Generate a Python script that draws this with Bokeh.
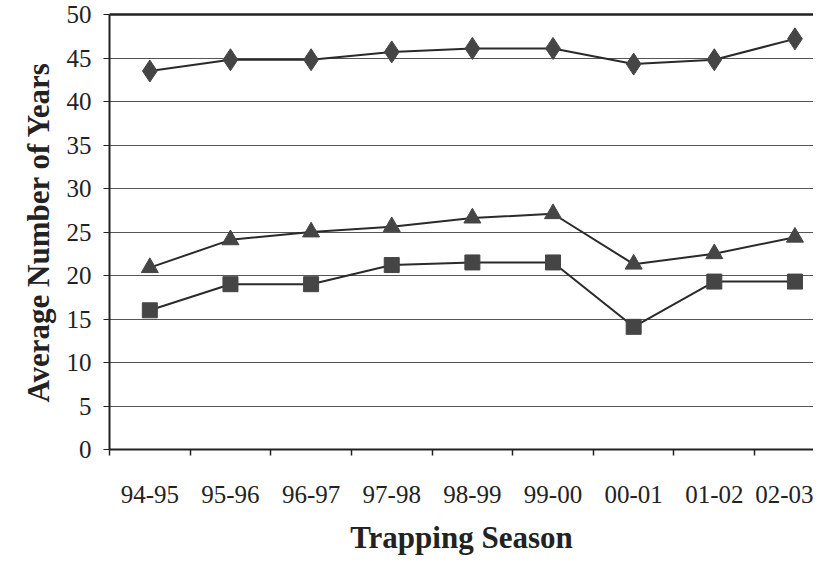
from bokeh.plotting import figure
from bokeh.models import Range1d, FixedTicker, LinearAxis
from bokeh.embed import file_html
from bokeh.resources import INLINE

seasons = ["94-95", "95-96", "96-97", "97-98", "98-99", "99-00", "00-01", "01-02", "02-03"]
diamond_vals = [43.5, 44.8, 44.8, 45.7, 46.1, 46.1, 44.3, 44.8, 47.2]
triangle_vals = [20.9, 24.1, 25.0, 25.6, 26.6, 27.1, 21.3, 22.5, 24.4]
square_vals = [16.0, 19.0, 19.0, 21.2, 21.5, 21.5, 14.1, 19.3, 19.3]
y_ticks = list(range(0, 51, 5))

xs = list(range(len(seasons)))
FONT = "Liberation Serif"
MARK = "#454545"
LINE = "#2a2a2a"

p = figure(width=813, height=557, output_backend="svg", toolbar_location=None,
           x_range=Range1d(-0.5, 8.23), y_range=Range1d(0, 50),
           min_border_left=109, min_border_right=0, min_border_top=14, min_border_bottom=10)
p.outline_line_color = None
p.background_fill_color = "white"
p.border_fill_color = "white"

for vals, marker, size in [(diamond_vals, "diamond", 22), (triangle_vals, "triangle", 17), (square_vals, "square", 15)]:
    p.line(xs, vals, line_color=LINE, line_width=2)
    p.scatter(xs, vals, marker=marker, size=size, fill_color=MARK, line_color=MARK)

# x axis: labels at category centres, tick marks at boundaries
p.xaxis.ticker = FixedTicker(ticks=xs, minor_ticks=[i - 0.5 for i in xs] + [8.5])
p.xaxis.major_label_overrides = {i: s for i, s in enumerate(seasons)}
p.xaxis.major_tick_line_color = None
p.xaxis.minor_tick_in = 0
p.xaxis.minor_tick_out = 6
p.xaxis.minor_tick_line_color = "#222222"
p.xaxis.minor_tick_line_width = 1.5
p.xaxis.axis_line_color = "#222222"
p.xaxis.axis_line_width = 2
p.xaxis.major_label_text_font = FONT
p.xaxis.major_label_text_font_size = "25px"
p.xaxis.major_label_text_color = "#222222"
p.xaxis.major_label_standoff = 30
p.xaxis.axis_label = "Trapping Season"
p.xaxis.axis_label_text_font = FONT
p.xaxis.axis_label_text_font_style = "bold"
p.xaxis.axis_label_text_font_size = "31px"
p.xaxis.axis_label_text_color = "#222222"
p.xaxis.axis_label_standoff = 14

p.yaxis.ticker = FixedTicker(ticks=y_ticks)
p.yaxis.minor_tick_line_color = None
p.yaxis.major_tick_in = 0
p.yaxis.major_tick_out = 6
p.yaxis.major_tick_line_color = "#222222"
p.yaxis.axis_line_color = "#222222"
p.yaxis.axis_line_width = 2
p.yaxis.major_label_text_font = FONT
p.yaxis.major_label_text_font_size = "25px"
p.yaxis.major_label_text_color = "#222222"
p.yaxis.major_label_standoff = 12
p.yaxis.axis_label = "Average Number of Years"
p.yaxis.axis_label_text_font = FONT
p.yaxis.axis_label_text_font_style = "bold"
p.yaxis.axis_label_text_font_size = "31px"
p.yaxis.axis_label_text_color = "#222222"
p.yaxis.axis_label_standoff = 8

p.xgrid.grid_line_color = None
p.ygrid.ticker = FixedTicker(ticks=y_ticks)
p.ygrid.grid_line_color = "#555555"
p.ygrid.grid_line_width = 1.2

top = LinearAxis(ticker=FixedTicker(ticks=[]), axis_line_color="#222222", axis_line_width=2.5,
                 major_tick_line_color=None, minor_tick_line_color=None,
                 major_label_text_font_size="0px")
p.add_layout(top, "above")

open("out.html", "w").write(file_html(p, INLINE))
